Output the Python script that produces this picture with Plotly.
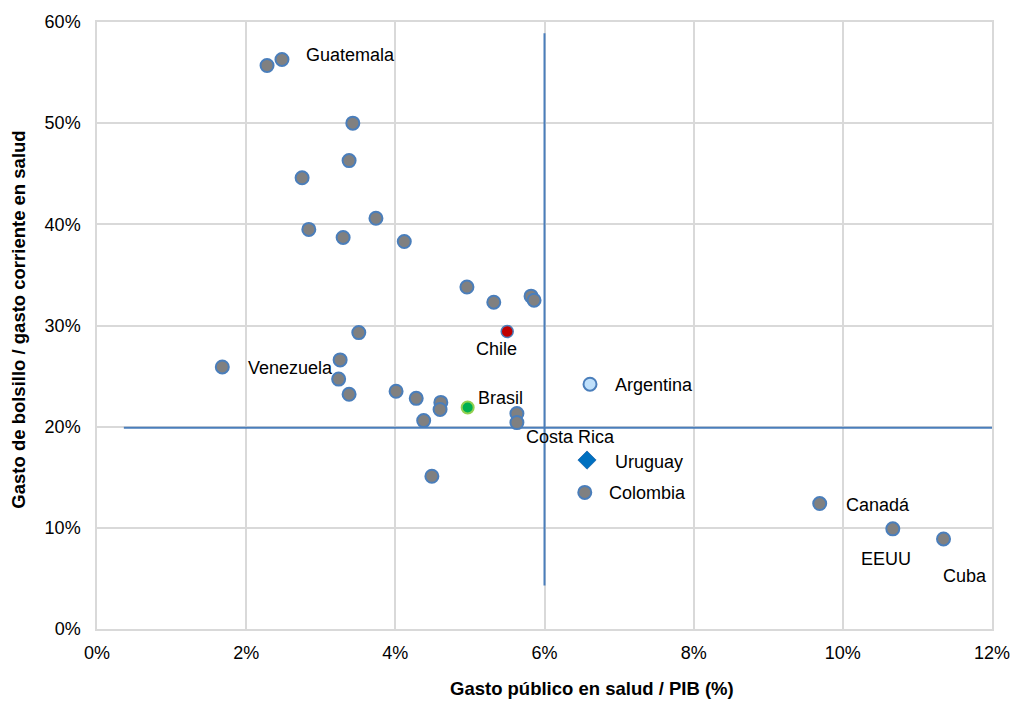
import plotly.graph_objects as go

# ---- Data (fractions) ----
# Unlabelled countries (gray)
other_x = [0.0228, 0.0343, 0.0338, 0.0275, 0.0374, 0.0284, 0.0330, 0.0412,
           0.0496, 0.0532, 0.0582, 0.0586, 0.0351, 0.0326, 0.0324, 0.0338,
           0.0401, 0.0428, 0.0461, 0.0460, 0.0438, 0.0563, 0.0449]
other_y = [0.557, 0.500, 0.463, 0.446, 0.406, 0.395, 0.387, 0.383,
           0.338, 0.323, 0.329, 0.325, 0.293, 0.266, 0.247, 0.232,
           0.235, 0.228, 0.224, 0.217, 0.206, 0.213, 0.151]

# Labelled gray countries
lab_names = ["Guatemala", "Venezuela", "Costa Rica", "Colombia", "Canadá", "EEUU", "Cuba"]
lab_x = [0.0248, 0.0168, 0.0563, 0.0654, 0.0969, 0.1067, 0.1135]
lab_y = [0.563, 0.259, 0.204, 0.135, 0.124, 0.099, 0.089]

# Highlighted countries
chile_x, chile_y = [0.0550], [0.294]
brasil_x, brasil_y = [0.0497], [0.219]
argentina_x, argentina_y = [0.0661], [0.242]
uruguay_x, uruguay_y = [0.0657], [0.167]

# Reference lines
vline_x = [0.060, 0.060]
vline_y = [0.043, 0.589]
hline_x = [0.0036, 0.120]
hline_y = [0.199, 0.199]

x_ticks = [0, 0.02, 0.04, 0.06, 0.08, 0.10, 0.12]
y_ticks = [0, 0.1, 0.2, 0.3, 0.4, 0.5, 0.6]

# label offsets in pixels (xshift, yshift, xanchor)
label_pos = {
    "Guatemala": (22, 4, "left"),
    "Venezuela": (24, -1, "left"),
    "Costa Rica": (7, -14, "left"),
    "Colombia": (22, -1, "left"),
    "Canadá": (24, -1, "left"),
    "EEUU": (-7, -30, "center"),
    "Cuba": (21, -37, "center"),
    "Chile": (-11, -17, "center"),
    "Brasil": (8, 9, "left"),
    "Argentina": (23, -1, "left"),
    "Uruguay": (26, -2, "left"),
}

FONT = "Liberation Sans, Arial, sans-serif"
GRAY = "#808080"
EDGE = "#4a7ebb"
LINE = "#4a7ebb"
GRID = "#d9d9d9"

fig = go.Figure()

fig.add_trace(go.Scatter(x=vline_x, y=vline_y, mode="lines",
                         line=dict(color=LINE, width=2), hoverinfo="skip"))
fig.add_trace(go.Scatter(x=hline_x, y=hline_y, mode="lines",
                         line=dict(color=LINE, width=2), hoverinfo="skip"))

fig.add_trace(go.Scatter(x=other_x, y=other_y, mode="markers",
                         marker=dict(size=13, color=GRAY, line=dict(color=EDGE, width=2))))
fig.add_trace(go.Scatter(x=lab_x, y=lab_y, mode="markers", text=lab_names,
                         marker=dict(size=13, color=GRAY, line=dict(color=EDGE, width=2))))
fig.add_trace(go.Scatter(x=chile_x, y=chile_y, mode="markers", text=["Chile"],
                         marker=dict(size=12, color="#c00000", line=dict(color=EDGE, width=1.5))))
fig.add_trace(go.Scatter(x=brasil_x, y=brasil_y, mode="markers", text=["Brasil"],
                         marker=dict(size=12, color="#00b050", line=dict(color="#92d050", width=2))))
fig.add_trace(go.Scatter(x=argentina_x, y=argentina_y, mode="markers", text=["Argentina"],
                         marker=dict(size=13, color="#bfe0fb", line=dict(color=EDGE, width=2))))
fig.add_trace(go.Scatter(x=uruguay_x, y=uruguay_y, mode="markers", text=["Uruguay"],
                         marker=dict(symbol="diamond", size=14, color="#0070c0",
                                     line=dict(color="#2e75b6", width=1))))

all_names = lab_names + ["Chile", "Brasil", "Argentina", "Uruguay"]
all_x = lab_x + chile_x + brasil_x + argentina_x + uruguay_x
all_y = lab_y + chile_y + brasil_y + argentina_y + uruguay_y
for n, xv, yv in zip(all_names, all_x, all_y):
    xs, ys, xa = label_pos[n]
    fig.add_annotation(x=xv, y=yv, text=n, showarrow=False, xanchor=xa, yanchor="middle",
                       xshift=xs, yshift=ys, font=dict(family=FONT, size=18, color="#000000"))

# axis titles
fig.add_annotation(x=0.553, y=-0.098, xref="paper", yref="paper", showarrow=False,
                   text="<b>Gasto público en salud / PIB (%)</b>", xanchor="center", yanchor="middle",
                   font=dict(family=FONT, size=18.5, color="#000000"))
fig.add_annotation(x=-0.088, y=0.51, xref="paper", yref="paper", showarrow=False, textangle=-90,
                   text="<b>Gasto de bolsillo / gasto corriente en salud</b>", xanchor="center",
                   yanchor="middle", font=dict(family=FONT, size=18.5, color="#000000"))

fig.update_layout(
    width=1014, height=704,
    margin=dict(l=97, r=22, t=22, b=75),
    paper_bgcolor="white", plot_bgcolor="white",
    showlegend=False,
    font=dict(family=FONT, size=18, color="#000000"),
    xaxis=dict(range=[0, 0.12], tickvals=x_ticks, tickformat=".0%", showgrid=True,
               gridcolor=GRID, gridwidth=1.5, zeroline=False,
               showline=True, linecolor=GRID, linewidth=1.5, mirror=True,
               ticks="", ticklabelstandoff=7, fixedrange=True, automargin=False,
               ticklabeloverflow="allow"),
    yaxis=dict(range=[0, 0.6], tickvals=y_ticks, tickformat=".0%", showgrid=True,
               gridcolor=GRID, gridwidth=1.5, zeroline=False,
               showline=True, linecolor=GRID, linewidth=1.5, mirror=True,
               ticks="", ticklabelstandoff=11, fixedrange=True, automargin=False,
               ticklabeloverflow="allow"),
)

fig.write_html("out.html", config={"displayModeBar": False},
               post_script="document.body.style.margin='0px';document.body.style.overflow='hidden';")
